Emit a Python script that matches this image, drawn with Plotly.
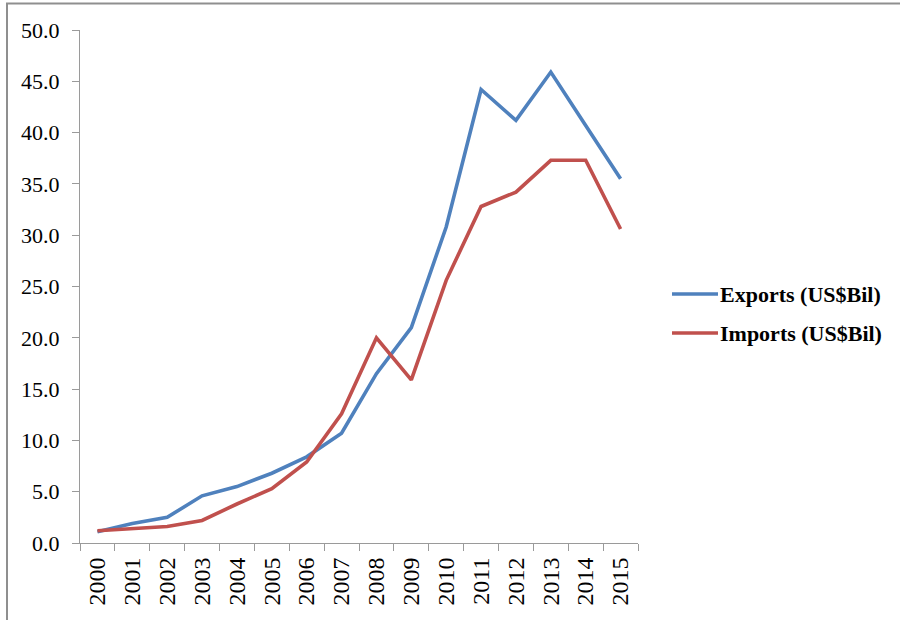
import plotly.graph_objects as go

years = [str(y) for y in range(2000, 2016)]
exports = [1.1, 1.9, 2.5, 4.6, 5.5, 6.8, 8.4, 10.7, 16.5, 21.0, 30.8, 44.2, 41.2, 45.9, 40.7, 35.5]
imports = [1.2, 1.4, 1.6, 2.2, 3.8, 5.3, 7.9, 12.6, 20.0, 15.9, 25.6, 32.8, 34.2, 37.3, 37.3, 30.6]
series_names = ["Exports (US$Bil)", "Imports (US$Bil)"]
y_ticks = [0, 5, 10, 15, 20, 25, 30, 35, 40, 45, 50]

BLUE = "#4F81BD"
RED = "#C0504D"
AXIS = "#9a9a9a"
FONT = "Liberation Serif, Times New Roman, serif"

W, H = 900, 620
L, R, T, B = 80, 638, 30, 543  # plot area in pixels


def px(x):
    return (x - L) / (R - L)


def py(y):
    return (B - y) / (B - T)


fig = go.Figure()
for name, vals, col in [(series_names[0], exports, BLUE), (series_names[1], imports, RED)]:
    fig.add_trace(go.Scatter(x=years, y=vals, mode="lines", name=name,
                             line=dict(color=col, width=3.6), showlegend=False))

# legend drawn as line samples with bold labels
legend_rows = [(series_names[0], BLUE, 294), (series_names[1], RED, 333)]
shapes = []
annotations = []
for name, col, yy in legend_rows:
    shapes.append(dict(type="line", xref="paper", yref="paper",
                       x0=px(672), x1=px(718), y0=py(yy), y1=py(yy),
                       line=dict(color=col, width=3.6)))
    annotations.append(dict(text=f"<b>{name}</b>", xref="paper", yref="paper",
                            x=px(718), y=py(yy), xanchor="left", yanchor="middle",
                            showarrow=False, font=dict(family=FONT, size=22, color="#000")))

# outer chart frame
shapes.append(dict(type="rect", xref="paper", yref="paper",
                   x0=px(7), x1=px(1000), y0=py(3.5), y1=py(700),
                   line=dict(color="#8f8f8f", width=2), fillcolor="rgba(0,0,0,0)", layer="below"))

fig.update_layout(
    width=W, height=H,
    margin=dict(l=L, r=W - R, t=T, b=H - B, pad=0),
    paper_bgcolor="white", plot_bgcolor="white",
    font=dict(family=FONT, size=21, color="#000"),
    shapes=shapes, annotations=annotations,
)
fig.update_xaxes(
    type="category", tickson="boundaries", ticks="outside", ticklen=7, tickcolor=AXIS,
    showline=True, linecolor=AXIS, linewidth=1, showgrid=False, zeroline=False,
    tickangle=-90, tickfont=dict(family=FONT, size=24), range=[-0.5, 15.5],
    ticklabelstandoff=4,
)
fig.update_yaxes(
    range=[0, 50], tickvals=y_ticks, tickformat=".1f", ticks="outside", ticklen=7,
    tickcolor=AXIS, showline=True, linecolor=AXIS, linewidth=1, showgrid=False,
    zeroline=False, tickfont=dict(family=FONT, size=22), ticklabelstandoff=8,
)

fig.write_html("out.html")
